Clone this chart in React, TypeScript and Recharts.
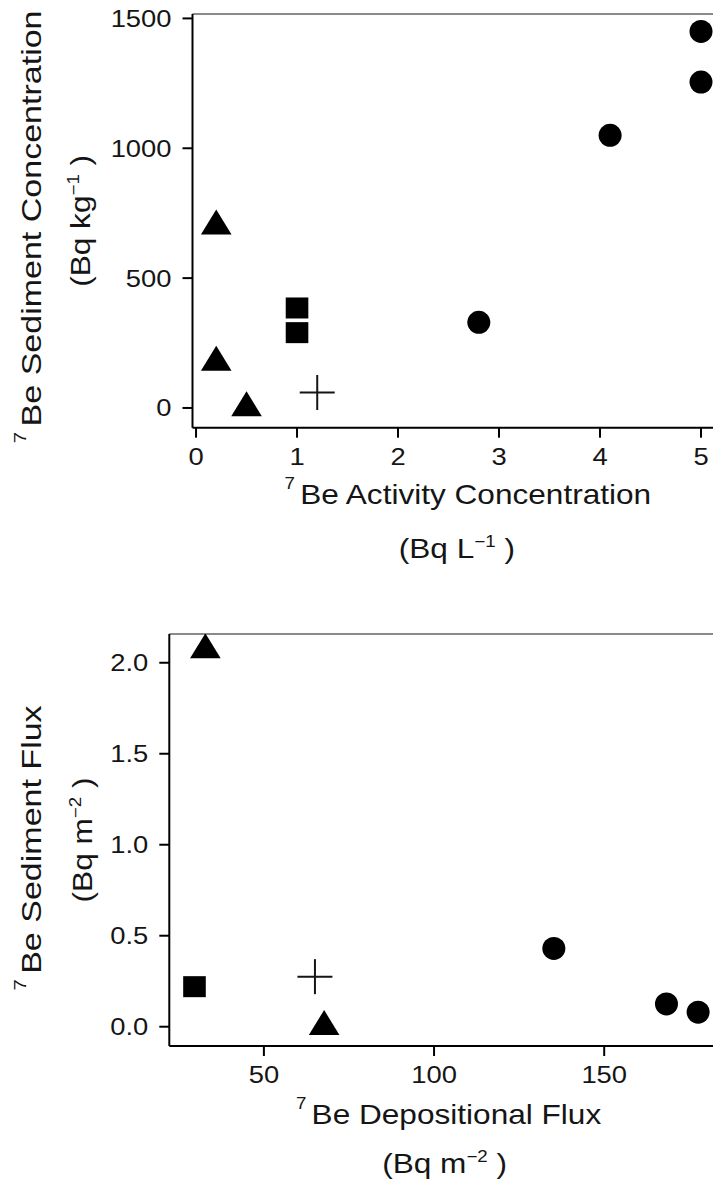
import React from "react";
import { ScatterChart, Scatter, XAxis, YAxis, ReferenceLine } from "recharts";

// ---------- Panel A : 7Be sediment concentration vs activity concentration ----------
const topXTicks = [0, 1, 2, 3, 4, 5];
const topYTicks = [0, 500, 1000, 1500];
const topCircleX = [5.0, 5.0, 4.1, 2.8];
const topCircleY = [1450, 1255, 1050, 330];
const topTriangleX = [0.2, 0.2, 0.5];
const topTriangleY = [700, 175, 0];
const topSquareX = [1.0, 1.0];
const topSquareY = [385, 290];
const topPlusX = [1.2];
const topPlusY = [60];

// ---------- Panel B : 7Be sediment flux vs depositional flux ----------
const botXTicks = [50, 100, 150];
const botYTicks = [0, 0.5, 1.0, 1.5, 2.0];
const botCircleX = [135.2, 168.3, 177.6];
const botCircleY = [0.43, 0.125, 0.08];
const botTriangleX = [32.8, 67.7];
const botTriangleY = [2.07, 0.0];
const botSquareX = [29.6];
const botSquareY = [0.22];
const botPlusX = [65.0];
const botPlusY = [0.275];

const zip = (xs: number[], ys: number[]) => xs.map((x, i) => ({ x, y: ys[i] }));

const FONT = "'Liberation Sans', Arial, Helvetica, sans-serif";
const INK = "#151515";
const TICK_FS = 24;
const TICK_SX = 1.14;
const TITLE_FS = 27;
const XTITLE_SX = 1.17;
const YTITLE_SX = 1.26;
const SUP_FS = 16;

const CircleShape = (p: any) => <circle cx={p.cx} cy={p.cy} r={11.5} fill="#000" />;
const SquareShape = (p: any) => (
  <rect x={p.cx - 11.3} y={p.cy - 10.5} width={22.6} height={21} fill="#000" />
);
const TriangleShape = (p: any) => (
  <polygon
    points={`${p.cx},${p.cy - 16.7} ${p.cx + 15.3},${p.cy + 8.3} ${p.cx - 15.3},${p.cy + 8.3}`}
    fill="#000"
  />
);
const PlusShape = (p: any) => (
  <g stroke={INK} strokeWidth={2}>
    <line x1={p.cx - 17.5} x2={p.cx + 17.5} y1={p.cy} y2={p.cy} />
    <line x1={p.cx} x2={p.cx} y1={p.cy - 17.5} y2={p.cy + 17.5} />
  </g>
);

const makeXTick = (fmt: (v: number) => string) => (props: any) => {
  const { x, y, payload } = props;
  return (
    <text
      transform={`translate(${x},${y}) scale(${TICK_SX},1)`}
      x={0}
      y={0}
      dy="0.71em"
      textAnchor="middle"
      fontSize={TICK_FS}
      fontFamily={FONT}
      fill={INK}
    >
      {fmt(payload.value)}
    </text>
  );
};

const makeYTick = (fmt: (v: number) => string) => (props: any) => {
  const { x, y, payload } = props;
  return (
    <text
      transform={`translate(${x},${y}) scale(${TICK_SX},1)`}
      x={0}
      y={0}
      dy="0.355em"
      textAnchor="end"
      fontSize={TICK_FS}
      fontFamily={FONT}
      fill={INK}
    >
      {fmt(payload.value)}
    </text>
  );
};

type Title = { main: string; unitPre: string; unitSup: string };

function Titles({ L, xTitle, yTitle }: { L: any; xTitle: Title; yTitle: Title }) {
  const cx = (L.plotLeft + L.plotRight) / 2;
  const cy = (L.plotTop + L.plotBottom) / 2;
  const line1 = (t: Title) => (
    <>
      <tspan fontSize={SUP_FS} dy={-15}>
        {"7 "}
      </tspan>
      <tspan fontSize={TITLE_FS} dy={15}>
        {t.main}
      </tspan>
    </>
  );
  const line2 = (t: Title) => (
    <>
      <tspan fontSize={TITLE_FS}>{t.unitPre}</tspan>
      <tspan fontSize={SUP_FS} dy={-11}>
        {t.unitSup}
      </tspan>
      <tspan fontSize={TITLE_FS} dy={11}>
        {" )"}
      </tspan>
    </>
  );
  return (
    <svg
      width={713}
      height={L.H}
      style={{ position: "absolute", left: 0, top: L.top, pointerEvents: "none" }}
    >
      <g fontFamily={FONT} fill={INK}>
        <text
          transform={`translate(${cx + L.xShift},${L.plotBottom + L.xl1}) scale(${XTITLE_SX},1)`}
          textAnchor="middle"
        >
          {line1(xTitle)}
        </text>
        <text
          transform={`translate(${cx},${L.plotBottom + L.xl2}) scale(${XTITLE_SX},1)`}
          textAnchor="middle"
        >
          {line2(xTitle)}
        </text>
        <text
          transform={`translate(${L.yl1},${cy + L.yShift}) rotate(-90) scale(${YTITLE_SX},1)`}
          textAnchor="middle"
        >
          {line1(yTitle)}
        </text>
        <text
          transform={`translate(${L.yl2},${cy}) rotate(-90) scale(${XTITLE_SX},1)`}
          textAnchor="middle"
        >
          {line2(yTitle)}
        </text>
      </g>
    </svg>
  );
}

function Panel({
  L,
  xDomain,
  yDomain,
  xTicks,
  yTicks,
  xFmt,
  yFmt,
  circles,
  triangles,
  squares,
  plus,
  xTitle,
  yTitle,
}: any) {
  return (
    <>
      <div style={{ position: "absolute", left: 0, top: L.top }}>
        <ScatterChart
          width={L.W}
          height={L.H}
          margin={{ top: L.plotTop, right: L.W - L.plotRight, bottom: 0, left: 0 }}
        >
          <XAxis
            type="number"
            dataKey="x"
            domain={xDomain}
            ticks={xTicks}
            interval={0}
            allowDataOverflow
            height={L.H - L.plotBottom}
            tickSize={10}
            tickMargin={10}
            axisLine={{ stroke: "#000", strokeWidth: 2 }}
            tickLine={{ stroke: "#000", strokeWidth: 2 }}
            tick={makeXTick(xFmt)}
          />
          <YAxis
            type="number"
            dataKey="y"
            domain={yDomain}
            ticks={yTicks}
            interval={0}
            allowDataOverflow
            width={L.plotLeft}
            tickSize={10}
            tickMargin={11}
            axisLine={{ stroke: "#000", strokeWidth: 2 }}
            tickLine={{ stroke: "#000", strokeWidth: 2 }}
            tick={makeYTick(yFmt)}
          />
          <ReferenceLine y={yDomain[1]} stroke="#8a8a8a" strokeWidth={2} ifOverflow="extendDomain" />
          <Scatter data={circles} shape={CircleShape} isAnimationActive={false} />
          <Scatter data={triangles} shape={TriangleShape} isAnimationActive={false} />
          <Scatter data={squares} shape={SquareShape} isAnimationActive={false} />
          <Scatter data={plus} shape={PlusShape} isAnimationActive={false} />
        </ScatterChart>
      </div>
      <Titles L={L} xTitle={xTitle} yTitle={yTitle} />
    </>
  );
}

const topLayout = {
  top: 0,
  W: 760,
  H: 600,
  plotLeft: 192.5,
  plotTop: 14,
  plotBottom: 427.7,
  plotRight: 721.2,
  xl1: 76,
  xl2: 130,
  yl1: 41,
  yl2: 90,
  xShift: 11,
  yShift: 6,
};

const botLayout = {
  top: 600,
  W: 760,
  H: 589,
  plotLeft: 169.3,
  plotTop: 34,
  plotBottom: 446,
  plotRight: 719.9,
  xl1: 78,
  xl2: 127,
  yl1: 41,
  yl2: 92,
  xShift: 4,
  yShift: 8,
};

export default function App() {
  return (
    <div
      style={{
        position: "absolute",
        left: 0,
        top: 0,
        width: 713,
        height: 1189,
        overflow: "hidden",
        background: "#fff",
      }}
    >
      <Panel
        L={topLayout}
        xDomain={[-0.035, 5.2]}
        yDomain={[-76, 1517]}
        xTicks={topXTicks}
        yTicks={topYTicks}
        xFmt={(v: number) => String(v)}
        yFmt={(v: number) => String(v)}
        circles={zip(topCircleX, topCircleY)}
        triangles={zip(topTriangleX, topTriangleY)}
        squares={zip(topSquareX, topSquareY)}
        plus={zip(topPlusX, topPlusY)}
        xTitle={{ main: "Be Activity Concentration", unitPre: "(Bq L", unitSup: "−1" }}
        yTitle={{ main: "Be Sediment Concentration", unitPre: "(Bq kg", unitSup: "−1" }}
      />
      <Panel
        L={botLayout}
        xDomain={[22.2, 184]}
        yDomain={[-0.106, 2.158]}
        xTicks={botXTicks}
        yTicks={botYTicks}
        xFmt={(v: number) => String(v)}
        yFmt={(v: number) => v.toFixed(1)}
        circles={zip(botCircleX, botCircleY)}
        triangles={zip(botTriangleX, botTriangleY)}
        squares={zip(botSquareX, botSquareY)}
        plus={zip(botPlusX, botPlusY)}
        xTitle={{ main: "Be Depositional Flux", unitPre: "(Bq m", unitSup: "−2" }}
        yTitle={{ main: "Be Sediment Flux", unitPre: "(Bq m", unitSup: "−2" }}
      />
    </div>
  );
}
